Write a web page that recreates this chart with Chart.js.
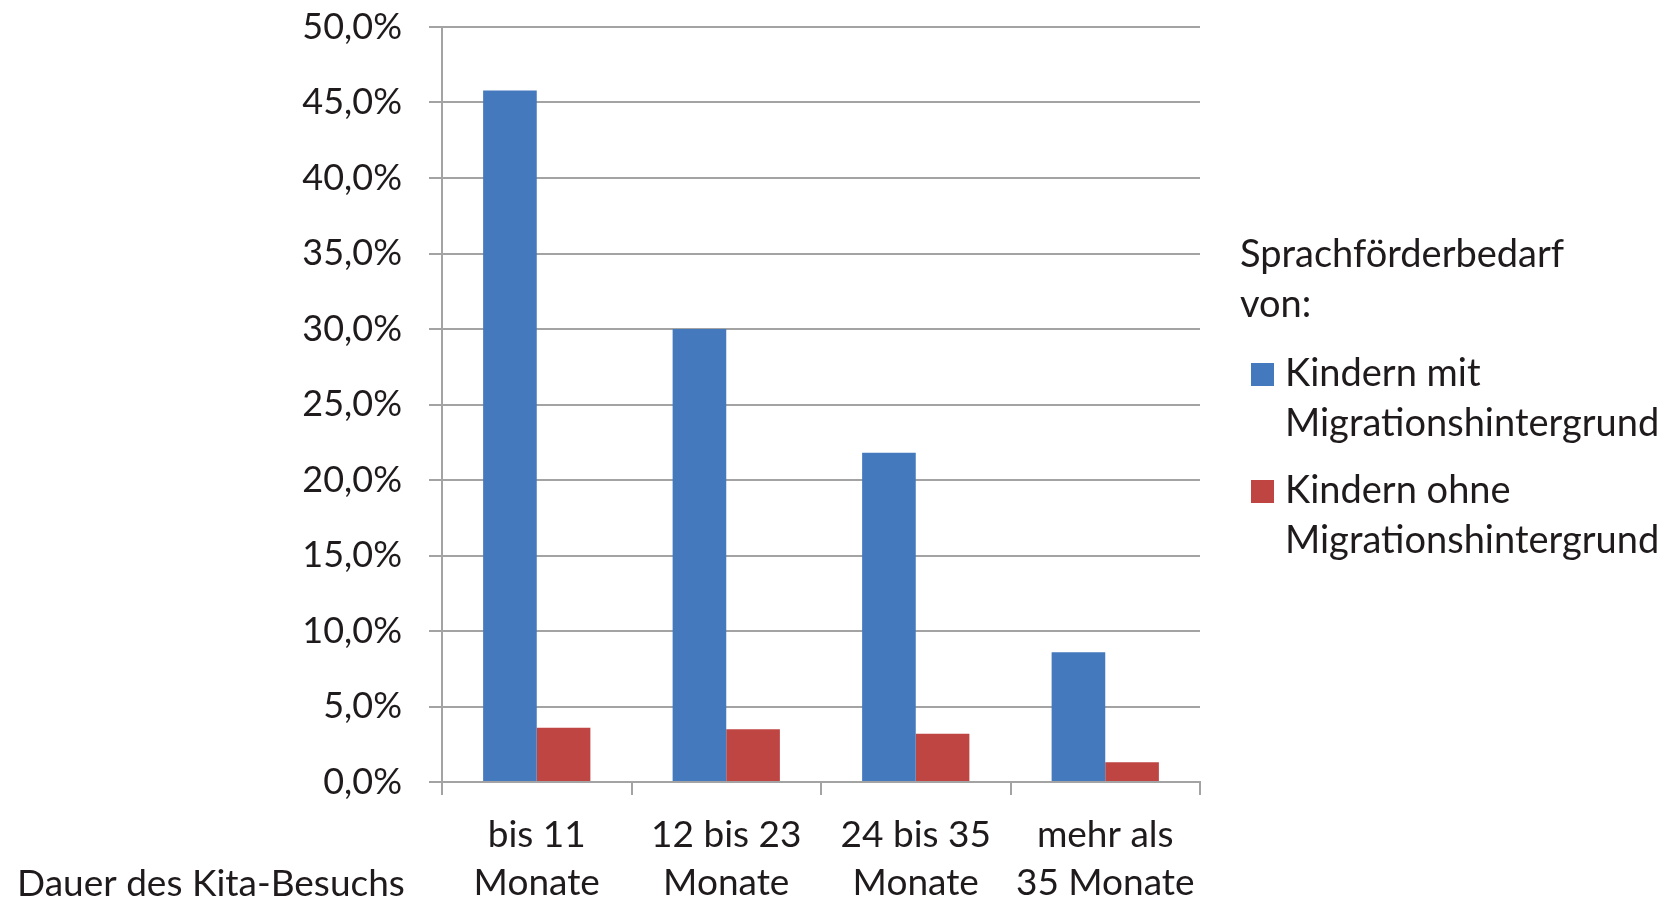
<!DOCTYPE html>
<html lang="de">
<head>
<meta charset="utf-8">
<title>Sprachförderbedarf nach Dauer des Kita-Besuchs</title>
<script src="https://cdn.jsdelivr.net/npm/chart.js@4.4.1/dist/chart.umd.min.js"></script>
<style>
  html, body { margin: 0; padding: 0; background: #ffffff; }
  #wrap { width: 1667px; height: 902px; position: relative; }
</style>
</head>
<body>
<div id="wrap"><canvas id="chart" width="1667" height="902"></canvas></div>
<script>
// Kategorien: Dauer des Kita-Besuchs (zweizeilige Beschriftung)
const categories = [
  ['bis 11', 'Monate'],
  ['12 bis 23', 'Monate'],
  ['24 bis 35', 'Monate'],
  ['mehr als', '35 Monate']
];

// Anteil der Kinder mit Sprachförderbedarf in %
const mitMigration = [45.8, 30.0, 21.8, 8.6];
const ohneMigration = [3.6, 3.5, 3.2, 1.3];

const seriesNames = [
  ['Kindern mit', 'Migrationshintergrund'],
  ['Kindern ohne', 'Migrationshintergrund']
];
const legendTitle = ['Sprachförderbedarf', 'von:'];
const axisCaption = 'Dauer des Kita-Besuchs';

// Achsenbeschriftungen 0,0% … 50,0%
const yMin = 0, yMax = 50, yStep = 5;

const FONT = 'Lato, "Open Sans", sans-serif';
const TEXT = '#1f1a1c';
const GRID = '#a3a3a3';

// Legende und Achsentitel werden direkt auf die Zeichenfläche geschrieben
const sideText = {
  id: 'sideText',
  afterDraw(chart) {
    const ctx = chart.ctx;
    ctx.save();
    ctx.fillStyle = TEXT;
    ctx.textAlign = 'left';
    ctx.textBaseline = 'alphabetic';
    ctx.font = '38px ' + FONT;
    const legX = chart.chartArea.right + 40;
    ctx.fillText(legendTitle[0], legX, 267);
    ctx.fillText(legendTitle[1], legX, 317);

    const itemTop = [386, 503];
    chart.data.datasets.forEach((ds, i) => {
      const base = itemTop[i];
      ctx.fillStyle = ds.backgroundColor;
      ctx.fillRect(legX + 11, base - 23, 23, 23);
      ctx.fillStyle = TEXT;
      ds.label.forEach((ln, j) => ctx.fillText(ln, legX + 45, base + j * 50));
    });

    ctx.font = '37px ' + FONT;
    ctx.fillText(axisCaption, 17, 896);
    ctx.restore();
  }
};

new Chart(document.getElementById('chart'), {
  type: 'bar',
  data: {
    labels: categories,
    datasets: [
      { label: seriesNames[0], data: mitMigration, backgroundColor: '#4579bd' },
      { label: seriesNames[1], data: ohneMigration, backgroundColor: '#be4542' }
    ]
  },
  options: {
    responsive: false,
    animation: false,
    devicePixelRatio: 1,
    layout: { padding: { top: 27, right: 467, bottom: 0, left: 0 } },
    datasets: { bar: { categoryPercentage: 0.566, barPercentage: 1.0 } },
    plugins: { legend: { display: false }, tooltip: { enabled: false } },
    scales: {
      x: {
        offset: true,
        grid: {
          offset: true,
          drawOnChartArea: false,
          drawTicks: true,
          tickLength: 13,
          color: GRID,
          lineWidth: 2
        },
        border: { display: true, color: GRID, width: 2 },
        ticks: {
          color: TEXT,
          font: { family: FONT, size: 37, lineHeight: 48 / 37 },
          padding: 16,
          maxRotation: 0,
          autoSkip: false
        },
        afterFit(scale) { scale.height = 120; }
      },
      y: {
        min: yMin,
        max: yMax,
        grid: {
          color: GRID,
          lineWidth: 2,
          tickLength: 13,
          drawTicks: true
        },
        border: { display: true, color: GRID, width: 2 },
        ticks: {
          stepSize: yStep,
          color: TEXT,
          padding: 27,
          font: { family: FONT, size: 36, lineHeight: 1.2 },
          callback: v => v.toFixed(1).replace('.', ',') + '%'
        },
        afterFit(scale) {
          scale.width = 442;
          scale.paddingTop = 0;
          scale.paddingBottom = 0;
        }
      }
    }
  },
  plugins: [sideText]
});
</script>
</body>
</html>
